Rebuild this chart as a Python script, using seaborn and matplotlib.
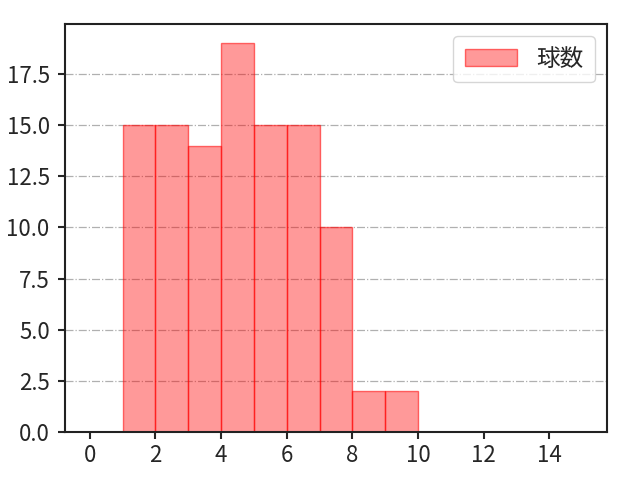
import matplotlib
matplotlib.use("Agg")
import matplotlib.pyplot as plt
import seaborn as sns
import numpy as np
import pandas as pd

sns.set_style("ticks")
plt.rcParams['font.family'] = ['Noto Sans CJK JP', 'DejaVu Sans']

bin_centers = [1.5, 2.5, 3.5, 4.5, 5.5, 6.5, 7.5, 8.5, 9.5]
counts = [15, 15, 14, 19, 15, 15, 10, 2, 2]
bin_edges = [1, 2, 3, 4, 5, 6, 7, 8, 9, 10]
label = "球数"

df = pd.DataFrame({"x": bin_centers, "w": counts})

fig = plt.figure(figsize=(6.4, 4.8), dpi=100)
ax = fig.add_axes([0.1016, 0.1, 0.8468, 0.85])
sns.histplot(data=df, x="x", weights="w", bins=bin_edges, ax=ax,
             color="red", linewidth=1, label=label)
for p in ax.patches:
    p.set_alpha(None)
    p.set_facecolor((1, 0, 0, 0.4))
    p.set_edgecolor((1, 0, 0, 0.55))
ax.set_xlim(-0.75, 15.75)
ax.set_ylim(0, 19.95)
ax.set_xticks([0, 2, 4, 6, 8, 10, 12, 14])
ax.set_yticks([0, 2.5, 5, 7.5, 10, 12.5, 15, 17.5])
ax.set_yticklabels(["0.0", "2.5", "5.0", "7.5", "10.0", "12.5", "15.0", "17.5"])
ax.set_xlabel("")
ax.set_ylabel("")
ax.tick_params(labelsize=16, width=1.5, length=5)
ax.tick_params(axis="y", pad=6)
ax.tick_params(axis="x", pad=4)
for s in ax.spines.values():
    s.set_linewidth(1.5)
    s.set_color("#222222")
ax.yaxis.grid(True, linestyle="-.", color="#b0b0b0", linewidth=0.9)
ax.set_axisbelow(True)
ax.legend(loc="upper right", fontsize=17, handlelength=2.2, borderpad=0.5)
fig.savefig("out.png", dpi=100)
